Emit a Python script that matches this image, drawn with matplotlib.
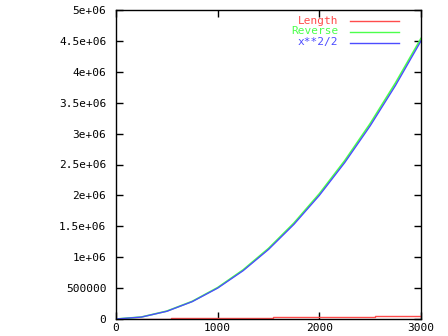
import numpy as np
import matplotlib.pyplot as plt

# x positions of the samples
xs = [0, 250, 500, 750, 1000, 1250, 1500, 1750, 2000, 2250, 2500, 2750, 3000]

# x**2/2 values
half_sq = [0, 31250, 125000, 281250, 500000, 781250, 1125000, 1531250,
           2000000, 2531250, 3125000, 3781250, 4500000]

# Reverse, a little above x**2/2
reverse = [0, 32000, 128000, 286000, 509000, 795000, 1142000, 1553000,
           2027000, 2563000, 3162000, 3823000, 4540000]

# Length, step shaped
len_x = [120, 540, 540, 1540, 1540, 2550, 2550, 3000]
length = [2000, 2000, 14000, 14000, 30000, 30000, 48000, 48000]

yticks = [0, 500000, 1000000, 1500000, 2000000, 2500000, 3000000,
          3500000, 4000000, 4500000, 5000000]
ylabels = ["0", "500000", "1e+06", "1.5e+06", "2e+06", "2.5e+06", "3e+06",
           "3.5e+06", "4e+06", "4.5e+06", "5e+06"]
xticks = [0, 1000, 2000, 3000]

red = "#ff4c4c"
green = "#4cff4c"
blue = "#4c4cff"

plt.rcParams['font.family'] = 'DejaVu Sans Mono'
plt.rcParams['font.size'] = 8

fig = plt.figure(figsize=(4.48, 3.36), dpi=100)
ax = fig.add_axes([116 / 448, 17 / 336, 305 / 448, 309 / 336])

ax.plot(len_x, length, color=red, lw=1)
ax.plot(xs, reverse, color=green, lw=1.2)
ax.plot(xs, half_sq, color=blue, lw=1)

ax.set_xlim(0, 3000)
ax.set_ylim(0, 5000000)
ax.set_xticks(xticks)
ax.set_xticklabels([str(t) for t in xticks])
ax.set_yticks(yticks)
ax.set_yticklabels(ylabels)
ax.tick_params(direction='in', length=5, width=1, top=True, right=True,
               pad=7)
ax.tick_params(axis='x', pad=3)
for s in ax.spines.values():
    s.set_linewidth(1)

# gnuplot style key: text right aligned, line to the right
names = ["Length", "Reverse", "x**2/2"]
cols = [red, green, blue]
for i, (n, c) in enumerate(zip(names, cols)):
    yy = 1 - (10.5 + 11 * i) / 309
    ax.text((338 - 116) / 305, yy, n, color=c, ha='right', va='center',
            transform=ax.transAxes)
    ax.plot([(350 - 116) / 305, (399 - 116) / 305], [yy, yy], color=c, lw=1,
            transform=ax.transAxes)

fig.savefig("out.png", dpi=100)
